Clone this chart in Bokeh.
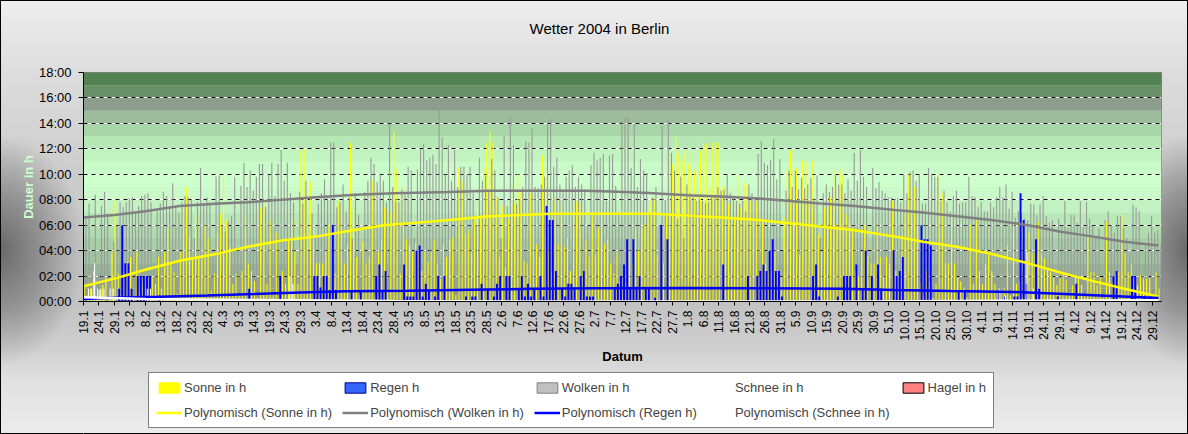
import math
from datetime import date, timedelta
from bokeh.plotting import figure
from bokeh.layouts import column
from bokeh.models import Range1d, FixedTicker, Grid, Legend, LegendItem, ColumnDataSource, Label
from bokeh.transform import dodge
from bokeh.embed import file_html
from bokeh.resources import INLINE

# ---------------- data ----------------
start = date(2004, 1, 19)
n_days = 348
dates = [f"{(start + timedelta(days=i)).day}.{(start + timedelta(days=i)).month}" for i in range(n_days)]
x_tick_idx = list(range(0, n_days, 5))
x_tick_labels = [dates[i] for i in x_tick_idx]
y_ticks = [0, 2, 4, 6, 8, 10, 12, 14, 16, 18]
y_tick_labels = ["00:00", "02:00", "04:00", "06:00", "08:00", "10:00", "12:00", "14:00", "16:00", "18:00"]

sonne = [
    1.1, 0.5, 1.0, 2.4, 0.3, 0.9, 1.3, 1.9, 0.2, 3.9,
    7.9, 2.2, 0.5, 2.3, 3.1, 3.5, 0.4, 3.9, 0.8, 1.4,
    1.1, 0.3, 1.9, 1.4, 3.5, 1.0, 3.9, 5.8, 2.9, 2.3,
    0.6, 3.9, 7.7, 9.0, 5.1, 3.5, 6.9, 3.4, 3.5, 6.0,
    5.0, 0.9, 2.2, 5.4, 6.9, 9.8, 6.4, 4.3, 1.4, 2.2,
    0.5, 2.4, 6.9, 3.0, 2.4, 1.6, 0.3, 7.4, 7.7, 1.4,
    6.4, 0.5, 5.4, 1.6, 2.4, 1.4, 4.8, 6.4, 3.9, 1.4,
    11.9, 12.0, 8.2, 9.4, 5.8, 3.0, 3.0, 3.0, 4.0, 6.0,
    0.5, 2.2, 7.9, 7.5, 3.0, 4.5, 12.5, 7.4, 3.5, 0.5,
    4.7, 3.0, 3.5, 9.5, 0.5, 3.9, 4.9, 7.4, 0.9, 7.1,
    13.4, 10.4, 2.2, 9.0, 4.9, 4.4, 3.9, 4.6, 3.9, 2.4,
    3.9, 3.1, 3.9, 4.9, 3.0, 1.8, 4.5, 3.5, 4.9, 5.0,
    0.5, 10.5, 9.5, 5.3, 5.6, 3.9, 6.6, 7.9, 6.8, 10.5,
    12.5, 13.4, 12.5, 8.2, 3.5, 7.5, 2.7, 6.5, 9.4, 7.7,
    10.0, 8.7, 3.2, 3.0, 8.5, 8.5, 4.5, 3.5, 11.5, 9.8,
    4.0, 2.4, 8.2, 4.5, 7.7, 4.3, 5.0, 2.4, 7.9, 7.9,
    7.7, 2.4, 4.9, 3.5, 6.8, 3.7, 5.8, 7.9, 4.5, 4.9,
    3.0, 2.2, 3.9, 1.6, 0.9, 1.5, 4.0, 3.0, 5.8, 4.0,
    5.8, 6.1, 7.1, 7.9, 8.1, 3.7, 5.8, 3.0, 6.9, 11.6,
    10.8, 12.9, 11.6, 11.1, 11.9, 10.8, 11.9, 10.3, 11.1, 11.9,
    12.5, 12.4, 9.0, 12.5, 12.5, 12.5, 9.0, 9.0, 7.7, 9.0,
    6.5, 10.0, 7.4, 9.4, 9.2, 7.9, 6.2, 7.9, 1.9, 6.2,
    3.0, 2.4, 2.4, 3.9, 2.4, 1.9, 6.6, 10.4, 11.9, 10.3,
    10.5, 3.7, 11.1, 10.9, 7.7, 11.1, 7.1, 5.3, 3.9, 7.4,
    9.0, 8.2, 10.4, 6.1, 10.4, 10.0, 6.9, 6.4, 5.8, 2.4,
    1.9, 3.9, 6.0, 3.6, 3.0, 3.0, 6.0, 3.5, 1.9, 3.5,
    3.0, 7.9, 2.4, 1.0, 5.2, 6.9, 10.0, 10.0, 9.0, 8.8,
    1.5, 0.5, 2.4, 1.6, 0.3, 1.4, 10.0, 8.5, 3.0, 3.0,
    6.6, 3.0, 1.9, 1.6, 1.1, 0.3, 6.0, 1.4, 6.4, 2.4,
    1.4, 3.0, 3.7, 2.4, 1.4, 0.7, 0.9, 1.0, 4.4, 0.5,
    6.4, 1.4, 1.6, 0.3, 0.5, 5.4, 3.8, 3.9, 6.3, 3.8,
    3.4, 2.6, 2.3, 1.9, 1.3, 1.8, 2.3, 1.7, 0.5, 1.3,
    1.9, 1.8, 1.3, 0.4, 5.1, 2.3, 2.3, 1.3, 1.9, 0.3,
    6.3, 2.3, 1.5, 2.1, 2.3, 6.8, 3.8, 2.3, 2.9, 1.8,
    1.3, 2.1, 1.8, 1.8, 1.8, 0.5, 2.3, 1.0,
]

wolken = [
    6.6, 7.7, 3.0, 8.4, 2.5, 7.5, 8.6, 6.9, 2.0, 4.7,
    6.0, 7.8, 7.4, 7.8, 8.1, 8.2, 7.1, 7.5, 8.3, 8.4,
    8.5, 7.8, 3.0, 7.1, 7.7, 8.6, 8.3, 7.4, 9.3, 7.4,
    7.0, 7.8, 8.3, 8.2, 8.0, 5.0, 7.8, 10.5, 7.7, 8.2,
    7.8, 4.0, 9.8, 9.9, 6.0, 5.5, 6.3, 6.7, 9.8, 4.0,
    9.1, 10.9, 9.0, 10.3, 8.7, 9.8, 10.8, 10.8, 7.4, 10.0,
    10.9, 8.3, 10.8, 11.9, 9.5, 10.9, 8.5, 7.8, 3.0, 8.6,
    7.7, 9.5, 4.0, 6.9, 5.0, 7.7, 8.5, 9.6, 8.2, 12.5,
    12.5, 7.4, 7.8, 9.2, 7.1, 8.2, 5.0, 8.5, 6.8, 4.0,
    8.6, 9.5, 11.3, 10.8, 9.4, 10.0, 9.5, 7.8, 14.0, 9.0,
    7.9, 7.8, 8.8, 8.6, 10.6, 10.3, 5.0, 10.4, 12.0, 12.4,
    11.1, 11.3, 11.5, 10.8, 15.5, 12.9, 10.0, 12.3, 9.5, 11.9,
    9.0, 10.6, 10.6, 10.0, 10.6, 8.5, 6.0, 11.3, 9.5, 9.9,
    8.6, 11.2, 10.3, 8.2, 5.0, 13.0, 7.5, 14.5, 12.3, 7.7,
    8.0, 9.0, 12.6, 12.5, 13.6, 9.0, 8.9, 9.2, 9.8, 14.0,
    14.3, 10.6, 11.3, 9.2, 8.8, 9.8, 10.3, 10.7, 9.0, 9.8,
    9.2, 8.8, 6.0, 10.7, 11.7, 11.1, 11.3, 11.6, 7.9, 11.5,
    11.6, 9.1, 7.0, 14.2, 14.5, 14.5, 10.5, 14.0, 9.0, 11.2,
    10.3, 10.1, 7.0, 8.2, 9.0, 6.0, 13.8, 8.0, 14.2, 11.7,
    10.3, 6.5, 9.8, 5.0, 9.2, 8.5, 8.2, 7.9, 8.1, 7.9,
    7.7, 7.8, 8.2, 8.2, 9.0, 8.7, 8.8, 10.0, 8.5, 8.2,
    7.9, 7.7, 7.9, 7.1, 9.2, 8.5, 8.2, 11.6, 12.6, 10.9,
    10.7, 11.1, 12.8, 9.6, 11.2, 4.0, 8.7, 10.3, 9.0, 10.3,
    8.8, 9.7, 8.9, 9.2, 9.7, 8.1, 9.9, 5.0, 8.5, 9.2,
    8.6, 9.0, 10.0, 9.2, 9.2, 8.5, 9.6, 8.7, 11.7, 9.5,
    11.9, 9.8, 9.0, 3.5, 10.5, 8.9, 9.4, 8.7, 8.5, 8.2,
    8.2, 8.1, 8.1, 7.8, 10.0, 8.5, 10.2, 10.3, 9.5, 10.0,
    7.7, 7.7, 10.5, 10.0, 9.8, 9.8, 7.9, 8.7, 7.8, 7.1,
    8.3, 8.7, 7.7, 7.8, 7.8, 9.8, 8.3, 8.2, 7.4, 7.8,
    7.1, 7.1, 7.8, 7.4, 8.2, 9.0, 8.2, 9.2, 7.3, 8.6,
    6.6, 7.1, 6.9, 6.5, 6.4, 7.7, 7.6, 6.8, 7.6, 8.3,
    6.7, 6.2, 6.4, 2.0, 6.5, 6.0, 7.9, 5.8, 6.8, 6.8,
    6.2, 7.9, 5.8, 7.8, 6.5, 6.0, 5.1, 5.7, 1.5, 6.4,
    7.1, 6.0, 5.4, 6.7, 6.7, 5.8, 5.0, 3.9, 7.6, 7.4,
    7.1, 2.0, 4.4, 5.4, 6.7, 5.4, 5.6, 4.4,
]

# rain / snow / hail hours on the days that had any (day index -> hours)
regen_days = {
    11: 1.0, 12: 6.0, 13: 3.0, 14: 3.0, 15: 1.0, 17: 2.0, 18: 2.0, 19: 2.0, 20: 2.0, 21: 2.0, 24: 0.5,
    53: 1.0, 63: 2.0, 74: 2.0, 75: 2.0, 76: 1.1, 77: 2.0, 78: 2.0, 79: 0.9, 80: 6.0, 81: 0.9, 86: 0.9,
    89: 0.9, 94: 2.0, 95: 2.9, 96: 0.9, 97: 2.4, 103: 2.9, 104: 0.4, 105: 0.4, 106: 0.4, 107: 4.0,
    108: 4.4, 109: 0.4, 110: 1.4, 111: 0.9, 113: 0.4, 114: 2.0, 116: 2.0, 123: 0.4, 125: 0.4, 126: 0.4,
    128: 1.4, 130: 1.0, 132: 0.4, 133: 1.4, 134: 2.0, 136: 2.0, 137: 2.0, 140: 1.0, 141: 2.0, 142: 0.4,
    143: 1.4, 144: 0.4, 145: 1.0, 147: 2.0, 148: 0.4, 149: 7.5, 150: 6.4, 151: 6.4, 152: 2.4, 154: 1.0,
    155: 0.4, 156: 1.4, 157: 1.4, 158: 1.0, 160: 2.0, 161: 2.4, 162: 0.4, 163: 0.4, 164: 0.4, 171: 1.0,
    172: 1.4, 173: 2.0, 174: 2.9, 175: 4.9, 176: 1.0, 177: 4.9, 178: 1.0, 179: 2.0, 181: 1.0, 182: 1.0,
    184: 0.3, 186: 6.0, 188: 4.9, 206: 2.9, 214: 2.0, 217: 2.0, 218: 2.4, 219: 2.9, 220: 2.4, 221: 4.0,
    222: 4.9, 223: 2.4, 224: 2.4, 225: 0.4, 235: 2.0, 236: 2.9, 237: 0.4, 243: 0.4, 245: 2.0, 246: 2.0,
    247: 2.0, 249: 2.9, 251: 1.0, 252: 4.0, 254: 2.0, 256: 2.9, 257: 1.0, 261: 4.0, 262: 2.0, 263: 2.4,
    264: 3.5, 270: 6.0, 271: 4.9, 272: 4.9, 273: 4.4, 282: 0.9, 284: 0.9, 295: 0.9, 297: 0.4, 300: 0.4,
    301: 0.4, 302: 8.5, 303: 6.4, 304: 1.4, 307: 4.9, 308: 1.0, 314: 0.4, 320: 1.4, 332: 2.0, 333: 2.4,
    338: 2.0, 339: 2.0, 342: 0.4, 344: 0.4, 346: 0.4,
}
schnee_days = {1: 1.0, 2: 1.0, 3: 3.0, 4: 1.0, 5: 1.0, 6: 1.0, 8: 1.0, 9: 1.0, 20: 1.0, 21: 1.0,
               66: 2.0, 67: 1.4, 295: 1.0, 297: 0.5, 304: 3.9, 306: 1.0}
hagel_days = {}

regen = [regen_days.get(i, 0.0) for i in range(n_days)]
schnee = [schnee_days.get(i, 0.0) for i in range(n_days)]
hagel = [hagel_days.get(i, 0.0) for i in range(n_days)]

# polynomial trend lines (day index, hours)
sonne_trend_x = [0, 10, 20, 31, 44, 53, 64, 75, 87, 97, 108, 118, 131, 141, 151, 175, 184, 195, 206,
                 218, 228, 238, 249, 262, 271, 282, 293, 305, 315, 326, 336, 347]
sonne_trend_y = [1.2, 1.8, 2.5, 3.2, 3.8, 4.3, 4.8, 5.1, 5.6, 6.0, 6.2, 6.4, 6.7, 6.8, 6.9, 6.9, 6.9, 6.75,
                 6.6, 6.4, 6.15, 5.9, 5.6, 5.1, 4.7, 4.3, 3.75, 3.0, 2.3, 1.6, 1.0, 0.4]
wolken_trend_x = [0, 10, 20, 31, 44, 53, 64, 75, 88, 100, 118, 131, 162, 175, 184, 195, 206, 218, 228,
                  238, 249, 262, 271, 282, 293, 305, 315, 326, 336, 347]
wolken_trend_y = [6.6, 6.8, 7.1, 7.5, 7.7, 7.8, 8.0, 8.2, 8.4, 8.5, 8.6, 8.7, 8.7, 8.6, 8.5, 8.35, 8.25,
                  8.1, 7.9, 7.7, 7.5, 7.2, 7.0, 6.7, 6.4, 6.0, 5.5, 5.1, 4.7, 4.4]
regen_trend_x = [0, 10, 25, 40, 55, 70, 85, 105, 125, 145, 165, 195, 220, 245, 262, 280, 300, 315, 330, 347]
regen_trend_y = [0.2, 0.3, 0.38, 0.47, 0.58, 0.7, 0.8, 0.85, 0.92, 1.0, 1.05, 1.07, 1.05, 1.0, 0.9, 0.82,
                 0.75, 0.6, 0.45, 0.28]
schnee_trend_x = [0, 20, 50, 100, 150, 250, 300, 347]
schnee_trend_y = [0.33, 0.2, 0.12, 0.03, 0.0, 0.0, 0.05, 0.1]

# ---------------- styling ----------------
FONT = "Liberation Sans"
W = 1188
FRAME_W = 1078          # plot frame width (all figures in the column share it)
band_bottoms = [0, 1, 2, 3, 4, 5, 6, 7, 8, 9, 10, 11, 12, 13, 14, 15, 16, 17]
band_colors = ["#8a9a8a", "#8fa68f", "#97b697", "#a0c4a0", "#a8d0a8", "#b0dcb0", "#b8e8b8", "#c2f2c2",
               "#caf9ca", "#ccffcc", "#c8fbc8", "#c2f4c2", "#b6e8b6", "#a8d6a8", "#9cbc9c", "#8e9c8e",
               "#6a906a", "#528252"]

bg_css = ("radial-gradient(ellipse 85px 115px at 0px 250px, rgba(105,105,105,1) 0%, "
          "rgba(105,105,105,0.55) 50%, rgba(105,105,105,0) 100%), "
          "radial-gradient(ellipse 70px 115px at 1188px 250px, rgba(105,105,105,1) 0%, "
          "rgba(105,105,105,0.55) 50%, rgba(105,105,105,0) 100%), "
          "linear-gradient(to bottom, #eeeeee 0%, #dedede 15%, #cccccc 40%, #c2c2c2 70%, "
          "#cfcfcf 80%, #e0e0e0 88%, #ececec 100%)")


def blank_fig(h):
    f = figure(width=W, height=h, x_range=Range1d(0, FRAME_W), y_range=Range1d(0, h),
               x_axis_location=None, y_axis_location=None, min_border=0,
               output_backend="svg", toolbar_location=None, title=None,
               border_fill_alpha=0, background_fill_alpha=0, outline_line_color=None)
    f.grid.visible = False
    return f


# ---- title strip (x measured from the plot frame's left edge) ----
p_title = blank_fig(40)
p_title.add_layout(Label(x=518, y=12, text="Wetter  2004 in Berlin", text_align="center",
                         text_baseline="middle", text_font=FONT, text_font_size="15px",
                         text_color="black"))

# ---- main chart ----
p = figure(width=W, height=330, x_range=Range1d(0, n_days), y_range=Range1d(0, 18),
           output_backend="svg", toolbar_location=None, title=None,
           min_border_left=83, min_border_right=27, min_border_top=32, min_border_bottom=69,
           border_fill_alpha=0, background_fill_color="#c8f8c8", outline_line_color="#808080")

# plot-area background bands
p.quad(left=0, right=n_days, bottom=band_bottoms, top=[b + 1 for b in band_bottoms],
       fill_color=band_colors, line_color=None, level="image")

# gridlines: white underneath, black dashes on top
p.xgrid.visible = False
p.ygrid.ticker = FixedTicker(ticks=y_ticks)
p.ygrid.grid_line_color = "white"
p.ygrid.grid_line_width = 1
g2 = Grid(dimension=1, ticker=FixedTicker(ticks=y_ticks), grid_line_color="black",
          grid_line_dash="4 4", grid_line_width=1)
p.add_layout(g2)

# bars
src = ColumnDataSource(dict(x=[i + 0.5 for i in range(n_days)], sonne=sonne, regen=regen,
                            wolken=wolken, schnee=schnee, hagel=hagel))
p.vbar(x=dodge("x", -0.3), top="sonne", width=0.38, fill_color="#ffff00", line_color=None, source=src)
p.vbar(x=dodge("x", 0.3), top="wolken", width=0.36, fill_color="#9a9a9a", line_color=None, source=src)
p.vbar(x=dodge("x", 0.0), top="regen", width=0.62, fill_color="#0000ff", line_color=None, source=src)
p.vbar(x=dodge("x", 0.1), top="schnee", width=0.36, fill_color="#ffffff", line_color=None, source=src)
p.vbar(x=dodge("x", 0.0), top="hagel", width=0.36, fill_color="#ff8080", line_color=None, source=src)

# trend lines
p.line(sonne_trend_x, sonne_trend_y, line_color="#ffff00", line_width=2.5)
p.line(wolken_trend_x, wolken_trend_y, line_color="#808080", line_width=2.5)
p.line(regen_trend_x, regen_trend_y, line_color="#0000ff", line_width=2.5)
p.line(schnee_trend_x, schnee_trend_y, line_color="#ffffff", line_width=2.5)

# axes
xa = p.xaxis[0]
xa.ticker = FixedTicker(ticks=x_tick_idx)
xa.major_label_overrides = {i: lab for i, lab in zip(x_tick_idx, x_tick_labels)}
xa.major_label_orientation = math.pi / 2
xa.major_label_text_font = FONT
xa.major_label_text_font_size = "12px"
xa.major_label_text_color = "black"
xa.major_tick_out = 4
xa.major_tick_in = 0
xa.minor_tick_line_color = None
xa.major_label_standoff = 5
xa.axis_line_color = "black"
xa.axis_label = "Datum"
xa.axis_label_text_font = FONT
xa.axis_label_text_font_size = "13px"
xa.axis_label_text_font_style = "bold"
xa.axis_label_text_color = "black"
xa.axis_label_standoff = 5

ya = p.yaxis[0]
ya.ticker = FixedTicker(ticks=y_ticks)
ya.major_label_overrides = {t: lab for t, lab in zip(y_ticks, y_tick_labels)}
ya.major_label_text_font = FONT
ya.major_label_text_font_size = "13px"
ya.major_label_text_color = "black"
ya.major_tick_out = 5
ya.major_tick_in = 0
ya.minor_tick_line_color = None
ya.major_label_standoff = 7
ya.axis_line_color = "black"
ya.axis_label = "Dauer in h"
ya.axis_label_text_font = FONT
ya.axis_label_text_font_size = "13px"
ya.axis_label_text_font_style = "bold"
ya.axis_label_text_color = "#ccffcc"
ya.axis_label_standoff = 0

# ---- legend strip: swatch renderers sit off-canvas, only their legend glyphs show ----
p_leg = blank_fig(64)
off = [-5000]
l_sonne = p_leg.vbar(x=off, top=[1], width=1, fill_color="#ffff00", line_color="#ffff00")
l_regen = p_leg.vbar(x=off, top=[1], width=1, fill_color="#3366ff", line_color="#000080")
l_wolken = p_leg.vbar(x=off, top=[1], width=1, fill_color="#c0c0c0", line_color="#808080")
l_schnee = p_leg.vbar(x=off, top=[1], width=1, fill_color="#ffffff", line_color="#ffffff")
l_hagel = p_leg.vbar(x=off, top=[1], width=1, fill_color="#ff8080", line_color="#000000")
off2 = [-5000, -4999]
lt_sonne = p_leg.line(x=off2, y=[1, 1], line_color="#ffff00", line_width=2.5)
lt_wolken = p_leg.line(x=off2, y=[1, 1], line_color="#808080", line_width=2.5)
lt_regen = p_leg.line(x=off2, y=[1, 1], line_color="#0000ff", line_width=2.5)
lt_schnee = p_leg.line(x=off2, y=[1, 1], line_color="#ffffff", line_width=2.5)

legend = Legend(items=[
    LegendItem(label="Sonne in h", renderers=[l_sonne]),
    LegendItem(label="Regen h", renderers=[l_regen]),
    LegendItem(label="Wolken in h", renderers=[l_wolken]),
    LegendItem(label="Schnee in h", renderers=[l_schnee]),
    LegendItem(label="Hagel in h", renderers=[l_hagel]),
    LegendItem(label="Polynomisch (Sonne in h)", renderers=[lt_sonne]),
    LegendItem(label="Polynomisch (Wolken in h)", renderers=[lt_wolken]),
    LegendItem(label="Polynomisch (Regen h)", renderers=[lt_regen]),
    LegendItem(label="Polynomisch (Schnee in h)", renderers=[lt_schnee]),
], location=(65, 6), orientation="horizontal", ncols=5, margin=0, padding=7, spacing=10,
    glyph_width=26, glyph_height=13, label_standoff=2, label_width=20, label_height=14,
    label_text_font=FONT, label_text_font_size="13px", label_text_baseline="middle",
    border_line_color="black", border_line_width=1, background_fill_color="white",
    background_fill_alpha=1)
p_leg.add_layout(legend)

layout = column(p_title, p, p_leg, spacing=0,
                styles={"background": bg_css, "outline": "1px solid #000000", "outline-offset": "-1px"})

open("out.html", "w").write(file_html(layout, INLINE, title="Wetter 2004 in Berlin"))
